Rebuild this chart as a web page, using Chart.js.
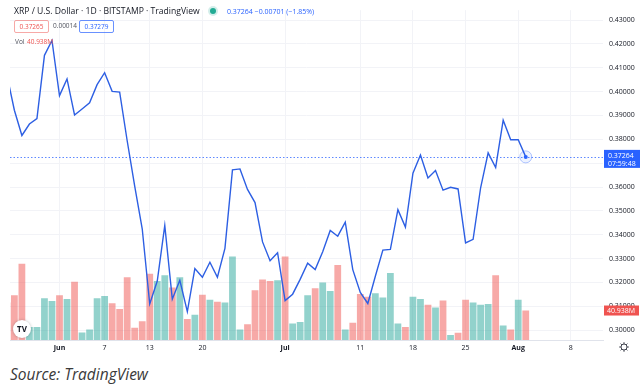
<!DOCTYPE html>
<html>
<head>
<meta charset="utf-8">
<script src="https://cdn.jsdelivr.net/npm/chart.js@4.4.1/dist/chart.umd.min.js"></script>
<style>
  html, body { margin: 0; padding: 0; background: #fff; }
  #wrap { position: relative; width: 643px; height: 384px; overflow: hidden; font-family: "Open Sans", sans-serif; }
  #chart { position: absolute; left: 0; top: 0; }
  .t { position: absolute; white-space: nowrap; line-height: 1; }
  .box { position: absolute; height: 11px; width: 33px; border-radius: 2px; font-size: 6.5px; line-height: 11px; text-align: center; }
  #source { position: absolute; left: 10px; top: 363px; font-size: 15.5px; font-style: italic; color: #3a3a3a; }
</style>
</head>
<body>
<div id="wrap">
  <canvas id="chart" width="643" height="358"></canvas>
  <div class="t" style="left:14px;top:6.5px;font-size:8.6px;color:#131722;">XRP / U.S. Dollar · 1D · BITSTAMP · TradingView</div>
  <div class="t" style="left:210px;top:8px;width:6px;height:6px;border-radius:3px;background:#22ab94;box-shadow:0 0 0 2px rgba(34,171,148,0.2);"></div>
  <div class="t" style="left:227px;top:7.5px;font-size:7px;color:#2962ff;">0.37264 −0.00701 (−1.85%)</div>
  <div class="box" style="left:14px;top:20px;border:1px solid rgba(239,83,80,0.5);color:#ef5350;">0.37265</div>
  <div class="t" style="left:53px;top:23px;font-size:6.5px;color:#50535e;">0.00014</div>
  <div class="box" style="left:79px;top:20px;border:1px solid rgba(41,98,255,0.7);color:#2962ff;">0.37279</div>
  <div class="t" style="left:15px;top:39px;font-size:6.5px;color:#50535e;">Vol</div>
  <div class="t" style="left:27px;top:39px;font-size:6.5px;color:#ef5350;">40.938M</div>
  <div id="source">Source: TradingView</div>
</div>
<script>
// daily closes from 2022-05-25 to 2022-08-02
const closes = [
  0.4070, 0.3922, 0.3816, 0.3864, 0.3887, 0.4152, 0.4214,
  0.3983, 0.4053, 0.3902, 0.3927, 0.3953, 0.4029, 0.4079, 0.4001, 0.3998, 0.3794,
  0.3604, 0.3425, 0.3110, 0.3206, 0.3439, 0.3130, 0.3209, 0.3078, 0.3258, 0.3222,
  0.3285, 0.3222, 0.3343, 0.3672, 0.3676, 0.3590, 0.3535, 0.3370, 0.3291, 0.3325,
  0.3124, 0.3151, 0.3213, 0.3281, 0.3254, 0.3329, 0.3418, 0.3394, 0.3453, 0.3254,
  0.3158, 0.3112, 0.3226, 0.3336, 0.3339, 0.3505, 0.3432, 0.3658, 0.3734, 0.3638,
  0.3669, 0.3587, 0.3599, 0.3592, 0.3366, 0.3381, 0.3597, 0.3743, 0.3682, 0.3880,
  0.3798, 0.3798, 0.37264
];
// volume in millions
const volumes = [
  52, 62, 106, 18, 18, 58, 54,
  62, 57, 81, 10.5, 14.6, 58, 61, 51, 43, 87,
  17, 26, 92, 82, 90, 73, 87, 29, 35, 63,
  56, 53, 52, 116, 14.6, 22, 69, 84, 82, 83,
  116, 23, 25, 62, 72, 80, 68, 104, 14.6, 24,
  64, 60, 65, 59, 93, 23, 18, 60, 57, 49,
  45, 55, 7, 10, 56, 52, 49, 50, 90, 20,
  14.6, 56, 40.938
];
// 1 = up day (green), 0 = down day (red)
const volUp = [
  0, 0, 0, 1, 1, 1, 1,
  0, 1, 0, 1, 1, 1, 1, 0, 0, 0,
  0, 0, 0, 1, 1, 0, 1, 0, 1, 0,
  1, 0, 1, 1, 1, 0, 0, 0, 0, 1,
  0, 1, 1, 1, 0, 1, 1, 0, 1, 0,
  0, 0, 1, 1, 1, 1, 0, 1, 1, 0,
  1, 0, 1, 0, 0, 1, 1, 1, 0, 1,
  0, 1, 0
];
const firstDate = "2022-05-25";
const tickDates = ["2022-06-01", "2022-06-07", "2022-06-13", "2022-06-20", "2022-07-01",
  "2022-07-11", "2022-07-18", "2022-07-25", "2022-08-01", "2022-08-08"];
const tickLabels = ["Jun", "7", "13", "20", "Jul", "11", "18", "25", "Aug", "8"];
const priceTicks = [0.30, 0.31, 0.32, 0.33, 0.34, 0.35, 0.36, 0.37, 0.38, 0.39, 0.40, 0.41, 0.42, 0.43];

const DAY = 864e5;
const jun1 = Date.parse("2022-06-01");
const dayOf = s => Math.round((Date.parse(s) - jun1) / DAY);
const start = dayOf(firstDate);
const days = closes.map((c, i) => start + i);
const tickDays = tickDates.map(dayOf);
const lastIdx = closes.length - 1;

const green = "rgba(38,166,154,0.5)";
const red = "rgba(239,83,80,0.5)";

const extras = {
  id: "extras",
  beforeDatasetsDraw(chart) {
    const { ctx, chartArea: a, scales } = chart;
    const y = Math.round(scales.y.getPixelForValue(closes[lastIdx])) + 0.5;
    ctx.save();
    ctx.strokeStyle = "rgba(41,98,255,0.75)";
    ctx.lineWidth = 1;
    ctx.setLineDash([1.5, 2]);
    ctx.beginPath();
    ctx.moveTo(a.left, y);
    ctx.lineTo(a.right, y);
    ctx.stroke();
    ctx.restore();
  },
  afterDraw(chart) {
    const { ctx, chartArea: a, scales } = chart;
    const px = scales.x.getPixelForValue(days[lastIdx]);
    const py = scales.y.getPixelForValue(closes[lastIdx]);
    ctx.save();
    // last point ring
    ctx.beginPath();
    ctx.arc(px, py, 6, 0, Math.PI * 2);
    ctx.fillStyle = "rgba(41,98,255,0.08)";
    ctx.fill();
    ctx.strokeStyle = "rgba(41,98,255,0.35)";
    ctx.lineWidth = 1;
    ctx.stroke();
    ctx.beginPath();
    ctx.arc(px, py, 2, 0, Math.PI * 2);
    ctx.fillStyle = "#2962ff";
    ctx.fill();

    // price label on the right scale
    ctx.fillStyle = "#2962ff";
    ctx.fillRect(a.right + 1, py - 7, 36, 18);
    ctx.fillStyle = "#fff";
    ctx.font = "7px 'Open Sans'";
    ctx.textAlign = "left";
    ctx.textBaseline = "middle";
    ctx.fillText(closes[lastIdx].toFixed(5), a.right + 5, py - 0.5);
    ctx.fillText("07:59:48", a.right + 5, py + 7);

    // volume label
    const vy = scales.y2.getPixelForValue(volumes[lastIdx]);
    ctx.fillStyle = "#ef5350";
    ctx.fillRect(a.right + 1, vy - 5, 35, 10);
    ctx.fillStyle = "#fff";
    ctx.fillText("40.938M", a.right + 4, vy);

    // TV logo
    ctx.beginPath();
    ctx.arc(22, 329, 9, 0, Math.PI * 2);
    ctx.shadowColor = "rgba(0,0,0,0.25)";
    ctx.shadowBlur = 3;
    ctx.fillStyle = "#fff";
    ctx.fill();
    ctx.shadowBlur = 0;
    ctx.fillStyle = "#131722";
    ctx.font = "bold 8px 'Open Sans'";
    ctx.textAlign = "center";
    ctx.fillText("TV", 22, 329.5);

    // settings gear
    const gx = 624, gy = 347;
    ctx.strokeStyle = "#434651";
    ctx.lineWidth = 1;
    ctx.beginPath();
    ctx.arc(gx, gy, 3, 0, Math.PI * 2);
    ctx.stroke();
    for (let i = 0; i < 8; i++) {
      const ang = i * Math.PI / 4;
      ctx.beginPath();
      ctx.moveTo(gx + Math.cos(ang) * 3, gy + Math.sin(ang) * 3);
      ctx.lineTo(gx + Math.cos(ang) * 4.8, gy + Math.sin(ang) * 4.8);
      ctx.stroke();
    }
    ctx.restore();
  }
};

const pxPerDay = 7.52;
const plotLeft = 10, plotRight = 603;
const xMin = -(59.5 - plotLeft) / pxPerDay;
const xMax = xMin + (plotRight - plotLeft) / pxPerDay;

new Chart(document.getElementById("chart"), {
  data: {
    datasets: [
      {
        type: "line",
        label: "Close",
        data: days.map((d, i) => ({ x: d, y: closes[i] })),
        yAxisID: "y",
        borderColor: "#2d5fe3",
        borderWidth: 1.4,
        pointRadius: 0,
        tension: 0,
        order: 0,
      },
      {
        type: "bar",
        label: "Vol",
        data: days.map((d, i) => ({ x: d, y: volumes[i] })),
        yAxisID: "y2",
        backgroundColor: volUp.map(u => (u ? green : red)),
        barPercentage: 0.9,
        categoryPercentage: 1,
        order: 1,
      },
    ],
  },
  options: {
    responsive: false,
    animation: false,
    layout: { padding: { left: plotLeft, top: 4, right: 0, bottom: 0 } },
    plugins: { legend: { display: false }, tooltip: { enabled: false } },
    scales: {
      x: {
        type: "linear",
        offset: false,
        min: xMin,
        max: xMax,
        afterBuildTicks: s => { s.ticks = tickDays.map(v => ({ value: v })); },
        afterFit: s => { s.height = 18; },
        grid: { color: "#f2f3f7", drawTicks: false, offset: false },
        border: { color: "#e0e3eb" },
        ticks: {
          padding: 4,
          autoSkip: false,
          maxRotation: 0,
          color: "#131722",
          font: c => ({ family: "'Open Sans'", size: 7, weight: [0, 4, 8].includes(c.index) ? "bold" : "normal" }),
          callback: (v, i) => tickLabels[i],
        },
      },
      y: {
        position: "right",
        min: 0.2959,
        max: 0.43411,
        afterBuildTicks: s => { s.ticks = priceTicks.map(v => ({ value: v })); },
        afterFit: s => { s.width = 40; },
        grid: { color: "#f2f3f7", drawTicks: false },
        border: { display: false },
        ticks: {
          padding: 6,
          color: "#131722",
          font: { family: "'Open Sans'", size: 7 },
          callback: v => v.toFixed(5),
        },
      },
      y2: {
        display: false,
        min: 0,
        max: 458,
      },
    },
  },
  plugins: [extras],
});
</script>
</body>
</html>
